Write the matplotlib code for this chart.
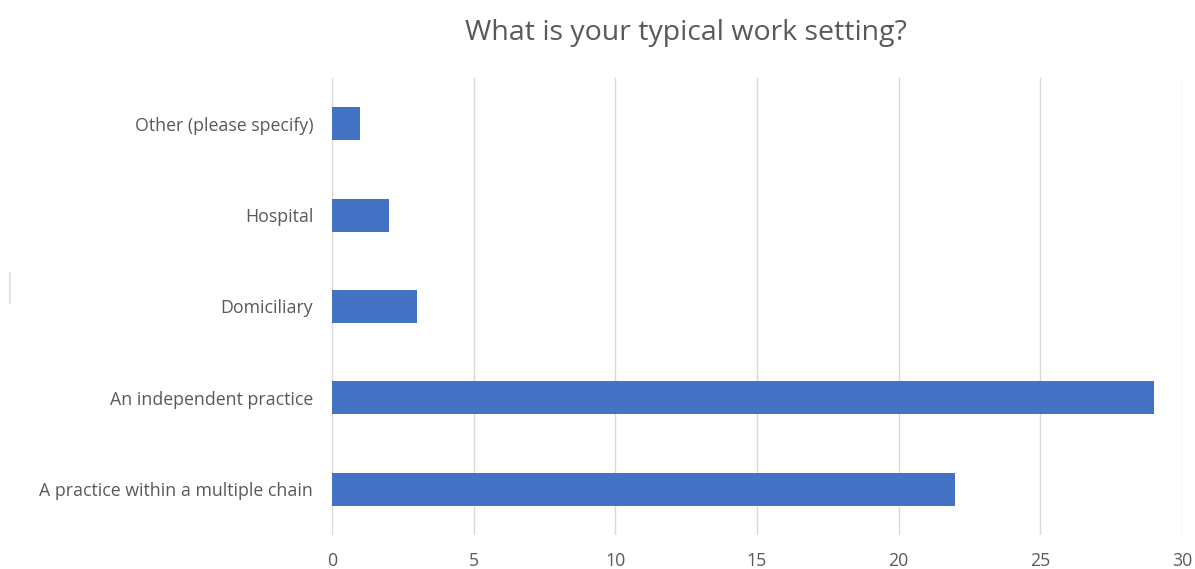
import matplotlib
matplotlib.use("Agg")
import matplotlib.pyplot as plt
from matplotlib.lines import Line2D

categories = [
    "A practice within a multiple chain",
    "An independent practice",
    "Domiciliary",
    "Hospital",
    "Other (please specify)",
]
counts = [22, 29, 3, 2, 1]
x_ticks = [0, 5, 10, 15, 20, 25, 30]

bar_color = "#4472C4"
text_color = "#595959"
grid_color = "#D9D9D9"

plt.rcParams["font.family"] = ["Open Sans", "DejaVu Sans"]

fig = plt.figure(figsize=(11.95, 5.69), dpi=100)
ax = fig.add_axes([0.2778, 0.0598, 0.7113, 0.8032])

ax.barh(range(len(categories)), counts, height=0.36, color=bar_color, zorder=3)

ax.set_xlim(0, 30)
ax.set_ylim(-0.5, len(categories) - 0.5)
ax.set_xticks(x_ticks)
ax.set_yticks(range(len(categories)))
ax.set_yticklabels(categories)

ax.grid(axis="x", color=grid_color, linewidth=1, zorder=0)
ax.set_axisbelow(True)
for s in ax.spines.values():
    s.set_visible(False)
ax.tick_params(axis="both", length=0, colors=text_color, labelsize=12.8)
ax.tick_params(axis="y", pad=13.5)
ax.tick_params(axis="x", pad=12)

fig.suptitle("What is your typical work setting?", x=0.5737, y=0.942,
             fontsize=20.5, color=text_color, va="center")

# thin stray mark on the left edge
fig.add_artist(Line2D([10 / 1195, 10 / 1195], [1 - 273 / 569, 1 - 303 / 569],
                      transform=fig.transFigure, color="#E3E3E3", linewidth=1.5))

fig.savefig("out.png", dpi=100)
